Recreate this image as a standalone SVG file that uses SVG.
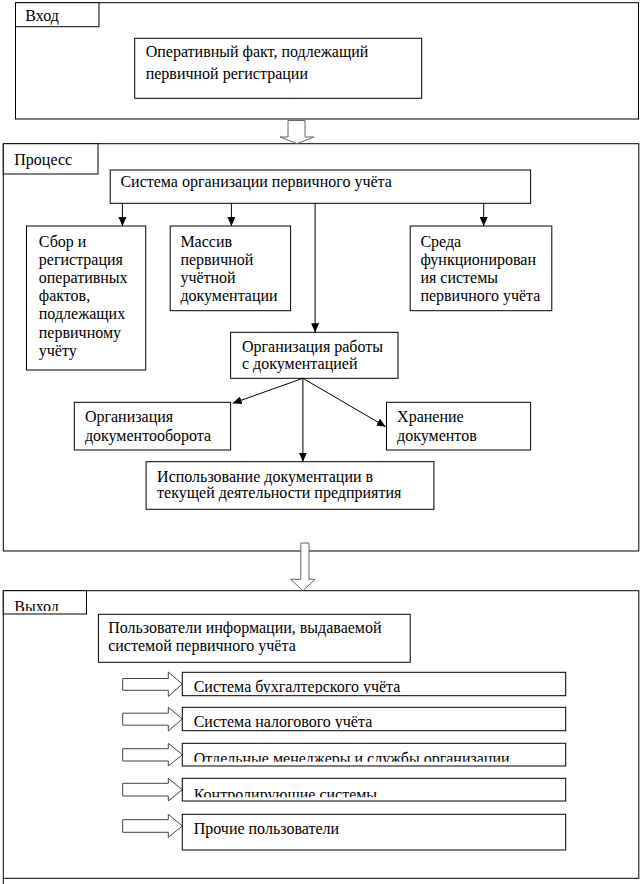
<svg xmlns="http://www.w3.org/2000/svg" width="640" height="884" viewBox="0 0 640 884" font-family="'Liberation Serif', 'Times New Roman', serif" font-size="16">
<style>
rect{fill:#fff;stroke:#000;stroke-width:1}
text{font-family:'Liberation Serif','Times New Roman',serif;font-size:16px;fill:#000}
.c{stroke:#000;stroke-width:1;fill:none}
.ba{fill:#fff;stroke:#666;stroke-width:1}
.ua{fill:#fff;stroke:#444;stroke-width:1}
</style>
<defs>
<marker id="ah" markerUnits="userSpaceOnUse" markerWidth="9" markerHeight="8" refX="9" refY="4" orient="auto"><path d="M0,0 L9,4 L0,8 z" fill="#000"/></marker>
<clipPath id="cl0"><rect x="3" y="590" width="84" height="21"/></clipPath>
<clipPath id="cl1"><rect x="182" y="672" width="384" height="21.5"/></clipPath>
<clipPath id="cl2"><rect x="182" y="707" width="384" height="21.5"/></clipPath>
<clipPath id="cl3"><rect x="182" y="743" width="384" height="18.7"/></clipPath>
<clipPath id="cl4"><rect x="182" y="778" width="384" height="19.3"/></clipPath>
</defs>

<g id="input">
<rect x="15.5" y="2.7" width="623" height="116.3"/>
<rect x="15.5" y="2.7" width="83.5" height="24"/>
<text x="25.3" y="20.7">Вход</text>
</g>
<g id="fact">
<rect x="134.7" y="38.3" width="287" height="60"/>
<text x="145.7" y="57.3">Оперативный факт, подлежащий</text>
<text x="145.7" y="79">первичной регистрации</text>
</g>

<g id="process">
<rect x="3.3" y="143.7" width="635.5" height="407.3"/>
<rect x="3.3" y="143.7" width="94.7" height="30.3"/>
<text x="14.3" y="165">Процесс</text>
</g>

<g id="arrow-in" class="ba"><path d="M288,120.5 H305 V137 H314 L297,143.7 L280,137 H288 Z"/></g>

<g id="system">
<rect x="110.2" y="170" width="420.4" height="33.3"/>
<text x="120.4" y="187.3">Система организации первичного учёта</text>
</g>
<g id="collect">
<rect x="26.5" y="226" width="119.2" height="144"/>
<text x="38.8" y="246.5">Сбор и</text>
<text x="38.8" y="264.7">регистрация</text>
<text x="38.8" y="282.9">оперативных</text>
<text x="38.8" y="301.1">фактов,</text>
<text x="38.8" y="319.3">подлежащих</text>
<text x="38.8" y="337.5">первичному</text>
<text x="38.8" y="355.7">учёту</text>
</g>
<g id="array">
<rect x="170.2" y="226" width="120.4" height="84.7"/>
<text x="180.4" y="246.5">Массив</text>
<text x="180.4" y="264.7">первичной</text>
<text x="180.4" y="282.9">учётной</text>
<text x="180.4" y="301.1">документации</text>
</g>
<g id="env">
<rect x="410.2" y="226" width="141.6" height="84.7"/>
<text x="420.4" y="246.5">Среда</text>
<text x="420.4" y="264.7">функционирован</text>
<text x="420.4" y="282.9">ия системы</text>
<text x="420.4" y="301.1">первичного учёта</text>
</g>
<g id="org-work">
<rect x="230.6" y="332.3" width="167.4" height="46"/>
<text x="242" y="351.7">Организация работы</text>
<text x="242" y="369.3">с документацией</text>
</g>
<g id="docflow">
<rect x="74.3" y="402.3" width="156.3" height="47.7"/>
<text x="84.9" y="422.3">Организация</text>
<text x="84.9" y="440.7">документооборота</text>
</g>
<g id="storage">
<rect x="386.5" y="402.3" width="144.1" height="47.7"/>
<text x="397.1" y="422.3">Хранение</text>
<text x="397.1" y="440.7">документов</text>
</g>
<g id="usage">
<rect x="146.1" y="461.7" width="287.8" height="47.6"/>
<text x="157.1" y="481.7">Использование документации в</text>
<text x="157.1" y="498.3">текущей  деятельности предприятия</text>
</g>

<g id="connectors">
<line class="c" x1="122.4" y1="203.3" x2="122.4" y2="226" marker-end="url(#ah)"/>
<line class="c" x1="231.4" y1="203.3" x2="231.4" y2="226" marker-end="url(#ah)"/>
<line class="c" x1="315.1" y1="203.3" x2="315.1" y2="332.3" marker-end="url(#ah)"/>
<line class="c" x1="483.7" y1="203.3" x2="483.7" y2="226" marker-end="url(#ah)"/>
<line class="c" x1="302.9" y1="378.3" x2="232.7" y2="403.3" marker-end="url(#ah)"/>
<line class="c" x1="302.9" y1="378.3" x2="385.7" y2="426.7" marker-end="url(#ah)"/>
<line class="c" x1="302.9" y1="378.3" x2="302.9" y2="461.7" marker-end="url(#ah)"/>
<line class="c" x1="122.7" y1="662.3" x2="122.7" y2="841.7"/>
</g>

<g id="arrow-out" class="ba"><path d="M300.8,543 H309 V579.3 H315.1 L302.9,590.7 L290.6,579.3 H300.8 Z"/></g>

<g id="output">
<rect x="3.3" y="590.7" width="635.5" height="287.6"/>
<line class="c" x1="3.3" y1="878" x2="3.3" y2="884"/>
<rect x="3.3" y="590.7" width="83.2" height="23.3"/>
<text x="14.3" y="611.5" clip-path="url(#cl0)">Выход</text>
</g>
<g id="users">
<rect x="98.4" y="614.3" width="311.8" height="48"/>
<text x="108.2" y="633.3">Пользователи информации, выдаваемой</text>
<text x="108.2" y="651">системой первичного учёта</text>
</g>

<g id="user-arrows" class="ua">
<path d="M122.7,678.5 H168.3 V672 L182.3,684 L168.3,696.5 V690.3 H122.7 Z"/>
<path d="M122.7,713.2 H168.3 V707.3 L182.3,719 L168.3,731 V725.2 H122.7 Z"/>
<path d="M122.7,748.7 H168.3 V743.3 L182.3,754.7 L168.3,766 V761 H122.7 Z"/>
<path d="M122.7,783.3 H168.3 V778.3 L182.3,789.7 L168.3,801 V796 H122.7 Z"/>
<path d="M122.7,819.7 H168.3 V814.3 L182.3,826 L168.3,837.3 V832.3 H122.7 Z"/>
</g>

<g id="u1">
<rect x="182.3" y="672.3" width="383.4" height="23.4"/>
<text x="193.7" y="691.7" clip-path="url(#cl1)">Система бухгалтерского  учёта</text>
</g>
<g id="u2">
<rect x="182.3" y="707.3" width="383.4" height="23.4"/>
<text x="193.7" y="726.7" clip-path="url(#cl2)">Система налогового учёта</text>
</g>
<g id="u3">
<rect x="182.3" y="743.3" width="383.4" height="22.7"/>
<text x="193.7" y="764.3" clip-path="url(#cl3)">Отдельные менеджеры и службы организации</text>
</g>
<g id="u4">
<rect x="182.3" y="778.3" width="383.4" height="22.7"/>
<text x="193.7" y="800" clip-path="url(#cl4)">Контролирующие системы</text>
</g>
<g id="u5">
<rect x="182.3" y="814.3" width="383.4" height="35.7"/>
<text x="193.7" y="834.3">Прочие пользователи</text>
</g>
</svg>
